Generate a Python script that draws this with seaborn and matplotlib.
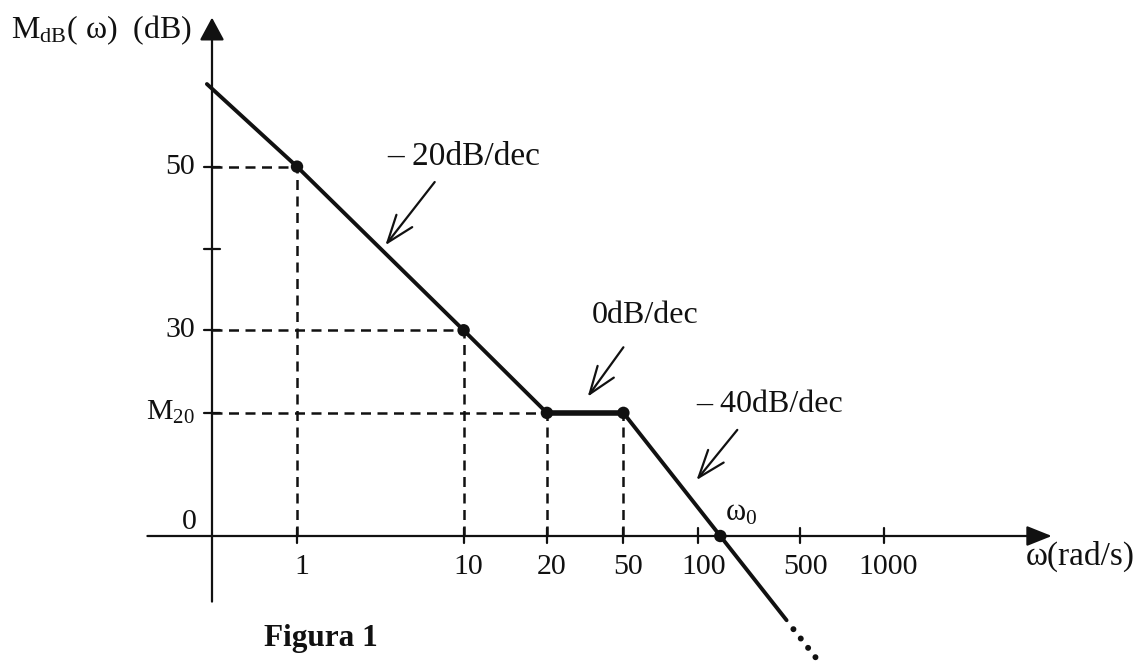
""" asymptotic bode magnitude sketch """

import matplotlib.pyplot as plt
import pandas as pd
import seaborn as sns

# drawn axis is schematic: tick values and where they sit along it
w_labels = ["1", "10", "20", "50", "100", "500", "1000"]
w_pos = [0.50, 1.48, 1.97, 2.42, 2.86, 3.46, 3.95]
db_labels = ["0", "M$_{20}$", "30", "", "50"]
db_pos = [0.0, 15.2, 25.4, 35.4, 45.6]

# corners of the asymptotic curve (drawn-axis units)
corner_w = [-0.03, 0.50, 1.48, 1.97, 2.42, 2.99, 3.38]
corner_db = [55.8, 45.6, 25.4, 15.2, 15.2, 0.0, -10.4]
tail_w = [3.42, 3.553]
tail_db = [-11.5, -15.05]

# which corners get a dot / dashed guides
dot_idx = [1, 2, 3, 4, 5]
hguide_idx = [1, 2, 3]
vguide_idx = [1, 2, 3, 4]

slope_labels = ["\u2013 20dB/dec", "0dB/dec", "\u2013 40dB/dec"]

sns.set_theme(style="white")
plt.rcParams["font.family"] = ["Liberation Serif", "DejaVu Serif"]
plt.rcParams["mathtext.fontset"] = "custom"
plt.rcParams["mathtext.rm"] = "Liberation Serif"
plt.rcParams["mathtext.it"] = "Liberation Serif:italic"

INK = "#111111"
PX_X = 170.0   # pixels per drawn x unit
PX_Y = 8.1     # pixels per drawn y unit
ORIG = (212, 536)

fig = plt.figure(figsize=(11.37, 6.61), dpi=100)
ax = fig.add_axes([0, 0, 1, 1])

curve = pd.DataFrame({"w": corner_w, "db": corner_db})
flat = curve.iloc[3:5]
dots = curve.iloc[dot_idx]

# dashed guides
for i in hguide_idx:
    ax.plot([0, corner_w[i]], [corner_db[i], corner_db[i]], color=INK,
            lw=1.8, ls=(0, (4, 2.6)))
for i in vguide_idx:
    ax.plot([corner_w[i], corner_w[i]], [0, corner_db[i]], color=INK,
            lw=1.8, ls=(0, (4, 2.6)))

# axes with arrow heads
ax.annotate("", xy=(4.94, 0), xytext=(-0.38, 0),
            arrowprops=dict(arrowstyle="-|>,head_length=0.55,head_width=0.22",
                            color=INK, lw=1.6, mutation_scale=28,
                            shrinkA=0, shrinkB=0))
ax.annotate("", xy=(0, 64.0), xytext=(0, -8.1),
            arrowprops=dict(arrowstyle="-|>,head_length=0.5,head_width=0.27",
                            color=INK, lw=1.6, mutation_scale=28,
                            shrinkA=0, shrinkB=0))

# ticks
for p in w_pos:
    ax.plot([p, p], [-0.85, 0.95], color=INK, lw=1.6)
for p in db_pos[1:]:
    ax.plot([-0.045, 0.045], [p, p], color=INK, lw=1.6)

sns.lineplot(data=curve, x="w", y="db", sort=False, estimator=None,
             color=INK, lw=2.8, ax=ax)
sns.lineplot(data=flat, x="w", y="db", sort=False, estimator=None,
             color=INK, lw=4.0, ax=ax)
ax.plot(tail_w, tail_db, color=INK, lw=4.3, ls=(0, (0.01, 1.98)),
        dash_capstyle="round")
sns.scatterplot(data=dots, x="w", y="db", color=INK, s=80,
                edgecolor="none", ax=ax, zorder=5)

# tick labels
for lab, p in zip(w_labels, w_pos):
    ax.text(p + 0.03, -3.8, lab, ha="center", va="center", fontsize=21.5,
            color=INK)
for lab, p in zip(db_labels[1:], db_pos[1:]):
    ax.text(-0.1, p, lab, ha="right", va="center", fontsize=21.5, color=INK)
ax.text(-0.09, 1.7, db_labels[0], ha="right", va="center", fontsize=21.5,
        color=INK)

# slope annotations
ax.text(1.48, 46.8, slope_labels[0], ha="center", va="center", fontsize=24,
        color=INK)
ax.text(2.55, 27.2, slope_labels[1], ha="center", va="center", fontsize=23,
        color=INK)
ax.text(3.28, 16.2, slope_labels[2], ha="center", va="center", fontsize=23,
        color=INK)
pointer = dict(arrowstyle="->,head_length=0.55,head_width=0.2", color=INK,
               lw=1.6, mutation_scale=36, shrinkA=0, shrinkB=0)
ax.annotate("", xy=(1.02, 35.9), xytext=(1.31, 43.7), arrowprops=pointer)
ax.annotate("", xy=(2.21, 17.2), xytext=(2.42, 23.3), arrowprops=pointer)
ax.annotate("", xy=(2.85, 6.9), xytext=(3.09, 13.1), arrowprops=pointer)

ax.text(3.11, 2.9, "\u03c9$_0$", ha="center", va="center", fontsize=22,
        color=INK)
ax.text(5.11, -2.5, "\u03c9(rad/s)", ha="center", va="center", fontsize=24,
        color=INK)
ax.text(-1.18, 62.5, "M$_{\\rm dB}$( \u03c9)  (dB)", ha="left", va="center",
        fontsize=23, color=INK)
ax.text(0.64, -12.6, "Figura 1", ha="center", va="center", fontsize=22.5,
        fontweight="bold", color=INK)

ax.set_xlim(-ORIG[0] / PX_X, (1137 - ORIG[0]) / PX_X)
ax.set_ylim(-(661 - ORIG[1]) / PX_Y, ORIG[1] / PX_Y)
ax.set_axis_off()

fig.savefig("out.png", dpi=100, facecolor="white")
